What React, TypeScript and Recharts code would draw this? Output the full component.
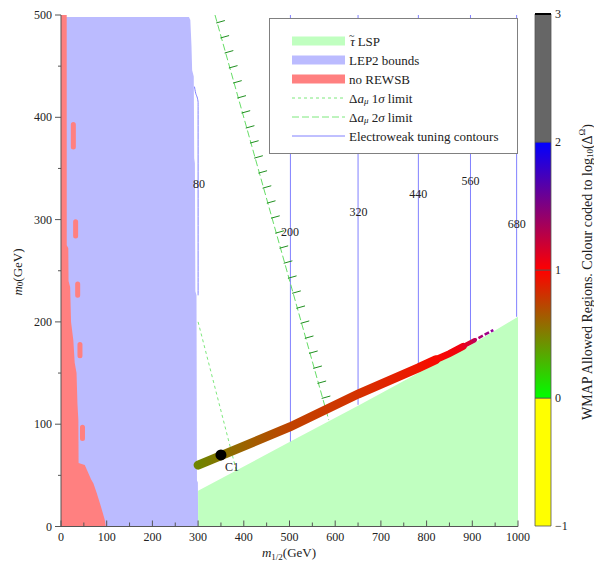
import React from 'react';
import {
  ComposedChart,
  BarChart,
  Bar,
  Area,
  Line,
  Scatter,
  XAxis,
  YAxis,
  ReferenceLine,
  Legend,
} from 'recharts';

const FONT = '"Liberation Serif", "DejaVu Serif", serif';
const INK = '#222';

// plot frame in page pixels (chart is pinned to the page corner)
const PLOT_LEFT = 61;
const PLOT_TOP = 15;
const PLOT_RIGHT = 518;
const PLOT_BOTTOM = 526.5;

// axis ticks
const xTicks = [0, 50, 100, 150, 200, 250, 300, 350, 400, 450, 500, 550, 600, 650, 700, 750, 800, 850, 900, 950, 1000];
const yTicks = [0, 50, 100, 150, 200, 250, 300, 350, 400, 450, 500];

// stau LSP region, upper edge (m1/2, m0)
const stauM12 = [300, 502, 650, 782, 895, 1000];
const stauM0 = [35, 83, 118, 150, 177, 205];

// LEP2 bounds, upper / right edge
const lepM12 = [0, 280, 283, 285.5, 287, 290.5, 291.5, 293, 294, 296.5, 297.5, 299.5, 300];
const lepM0 = [498, 498, 495, 470, 446, 440, 360, 355, 230, 226, 45, 43, 0];

// no REWSB region, right edge
const rewsbM12 = [0, 12.5, 12.6, 16, 16.5, 20, 22, 27, 30, 34, 36, 38, 38.5, 52, 60, 66, 71, 78, 85, 91, 96, 98];
const rewsbM0 = [500, 500, 275, 272, 240, 234, 200, 182, 160, 150, 120, 104, 62, 60, 52, 46, 42, 33, 23, 14, 6, 0];

// isolated no REWSB points
const blobM12 = [27, 32, 36.5, 41.5, 47];
const blobLo = [371, 284, 226, 167, 86];
const blobHi = [393, 298, 237, 178, 97];

// WMAP allowed band (centre line), thinning towards large m1/2
const wmapM12 = [300, 502, 650, 782, 820];
const wmapM0 = [60, 97.5, 129.5, 155, 163];
const wmapMidM12 = [815, 850, 880];
const wmapMidM0 = [162, 169, 176];
const wmapThinM12 = [875, 905];
const wmapThinM0 = [175, 182];
const wmapTailM12 = [900, 925, 946];
const wmapTailM0 = [181, 187, 192];

// electroweak tuning contours
const tuneM12 = [502, 650, 782, 896, 997];
const tuneLow = [83, 119, 151, 179, 205];
const tuneHigh = [500, 500, 500, 500, 500];
const tune80M12 = [292, 294, 300, 300];
const tune80M0 = [430, 425, 415, 226];
const tuneLabels = ['80', '200', '320', '440', '560', '680'];
const tuneLabelM12 = [302, 501, 651, 782, 896, 997];
const tuneLabelM0 = [335, 288, 307.5, 325, 338, 296];

// Delta a_mu limits
const g2OneM12 = [300, 384];
const g2OneM0 = [200, 54];
const g2TwoM12 = [337, 586];
const g2TwoM0 = [500, 104];

// benchmark point
const benchM12 = [350];
const benchM0 = [70];
const benchNames = ['C1'];

// colour bar
const cbLevels = [-1, 0, 1, 2, 3];
const cbFills = ['#ffff00', 'url(#cbGreenRed)', 'url(#cbRedBlue)', '#666666'];

const toPts = (xs: number[], ys: number[]) => xs.map((x, i) => ({ x, y: ys[i] }));
const toSegs = (xs: number[], lo: number[], hi: number[]) =>
  xs.flatMap((x, i) => [{ x, y: lo[i] }, { x, y: hi[i] }, { x, y: null }]);

const stauData = toPts(stauM12, stauM0);
const lepData = toPts(lepM12, lepM0);
const rewsbData = toPts(rewsbM12, rewsbM0);
const blobData = toSegs(blobM12, blobLo, blobHi);
const tuneData = toSegs(tuneM12, tuneLow, tuneHigh);
const tune80Data = toPts(tune80M12, tune80M0);
const tuneLabelData = tuneLabelM12.map((x, i) => ({ x, y: tuneLabelM0[i], label: tuneLabels[i] }));
const wmapData = toPts(wmapM12, wmapM0);
const wmapMidData = toPts(wmapMidM12, wmapMidM0);
const wmapThinData = toPts(wmapThinM12, wmapThinM0);
const wmapTailData = toPts(wmapTailM12, wmapTailM0);
const g2OneData = toPts(g2OneM12, g2OneM0);
const benchData = benchM12.map((x, i) => ({ x, y: benchM0[i], label: benchNames[i] }));

// one stacked bar: below zero stacks down, above zero stacks up
const cbRow: Record<string, number | string> = { name: 'cb' };
cbLevels.slice(0, -1).forEach((lo, i) => {
  const hi = cbLevels[i + 1];
  cbRow['s' + i] = hi <= 0 ? lo - hi : hi - lo;
});
const cbData = [cbRow];

const XTick = (props: any) => {
  const { x, payload } = props;
  const v = payload.value;
  const major = v % 100 === 0;
  return (
    <g>
      <line x1={x} x2={x} y1={PLOT_BOTTOM} y2={PLOT_BOTTOM - (major ? 6 : 4)} stroke="#555" />
      {major && (
        <text x={x} y={PLOT_BOTTOM + 14} textAnchor="middle" fontFamily={FONT} fontSize={12} fill={INK}>
          {v}
        </text>
      )}
    </g>
  );
};

const YTick = (props: any) => {
  const { y, payload } = props;
  const v = payload.value;
  const major = v % 100 === 0;
  return (
    <g>
      <line x1={PLOT_LEFT - (major ? 6 : 3)} x2={PLOT_LEFT} y1={y} y2={y} stroke="#555" />
      {major && (
        <text x={PLOT_LEFT - 9} y={y + 4} textAnchor="end" fontFamily={FONT} fontSize={12} fill={INK}>
          {v}
        </text>
      )}
    </g>
  );
};

const XTitle = () => (
  <text x={289} y={557} textAnchor="middle" fontFamily={FONT} fontSize={13} fill={INK}>
    <tspan fontStyle="italic">m</tspan>
    <tspan fontSize={9} dy={3}>1/2</tspan>
    <tspan dy={-3}>(GeV)</tspan>
  </text>
);

const YTitle = () => (
  <text
    x={17}
    y={272}
    transform="rotate(-90 17 272)"
    textAnchor="middle"
    dominantBaseline="central"
    fontFamily={FONT}
    fontSize={13}
    fill={INK}
  >
    <tspan fontStyle="italic">m</tspan>
    <tspan fontSize={9} dy={3}>0</tspan>
    <tspan dy={-3}>(GeV)</tspan>
  </text>
);

const CbTitle = () => (
  <text
    x={67}
    y={272}
    transform="rotate(-90 67 272)"
    textAnchor="middle"
    dominantBaseline="central"
    fontFamily={FONT}
    fontSize={14}
    fill={INK}
  >
    WMAP Allowed Regions. Colour coded to log
    <tspan fontSize={9} dy={3}>10</tspan>
    <tspan dy={-3}>(Δ</tspan>
    <tspan fontSize={9} dy={-5}>Ω</tspan>
    <tspan dy={5}>)</tspan>
  </text>
);

// dashed 2 sigma line with hatch marks on the allowed side
const HatchedLine = (props: any) => {
  const { x1, y1, x2, y2 } = props;
  const dx = x2 - x1;
  const dy = y2 - y1;
  const len = Math.hypot(dx, dy);
  const ux = dx / len;
  const uy = dy / len;
  let nx = -uy;
  let ny = ux;
  if (nx < 0) {
    nx = -nx;
    ny = -ny;
  }
  const hatches = [];
  for (let s = 8, k = 0; s < len - 8; s += 15.6, k++) {
    const px = x1 + ux * s;
    const py = y1 + uy * s;
    hatches.push(
      <line key={k} x1={px - nx} y1={py - ny} x2={px + nx * 8} y2={py + ny * 8} stroke="#1f8f1f" strokeWidth={1} />
    );
  }
  return (
    <g>
      <line x1={x1} y1={y1} x2={x2} y2={y2} stroke="#66dd66" strokeWidth={1} strokeDasharray="7 3" />
      {hatches}
    </g>
  );
};

const TuneLabel = (props: any) => {
  const { cx, cy, payload } = props;
  return (
    <text x={cx} y={cy} textAnchor="middle" dominantBaseline="central" fontFamily={FONT} fontSize={12} fill={INK}>
      {payload.label}
    </text>
  );
};

const BenchPoint = (props: any) => {
  const { cx, cy, payload } = props;
  return (
    <g>
      <circle cx={cx} cy={cy} r={5.5} fill="#000" />
      <text x={cx + 11} y={cy + 12} textAnchor="middle" dominantBaseline="central" fontFamily={FONT} fontSize={12} fill={INK}>
        {payload.label}
      </text>
    </g>
  );
};

const DeltaA = ({ x, y, sigma }: { x: number; y: number; sigma: string }) => (
  <text x={x} y={y} dominantBaseline="central" fontFamily={FONT} fontSize={13} fill={INK}>
    Δ<tspan fontStyle="italic">a</tspan>
    <tspan fontStyle="italic" fontSize={9} dy={3}>μ</tspan>
    <tspan dy={-3}> {sigma}</tspan>
    <tspan fontStyle="italic">σ</tspan> limit
  </text>
);

const legendRows = ['stau', 'lep', 'rewsb', 'one', 'two', 'tune'];

const LegendBox = () => {
  const sx1 = 22;
  const sx2 = 75;
  const tx = 79;
  return (
    <div style={{ width: 247, height: 134, border: '1px solid #808080', background: '#fff' }}>
      <svg width={247} height={134} style={{ display: 'block' }}>
        {legendRows.map((row, i) => {
          const y = 22 + i * 19;
          if (row === 'stau') {
            return (
              <g key={row}>
                <rect x={sx1} y={y - 4.5} width={sx2 - sx1} height={9} fill="#c0ffc0" />
                <text x={tx} y={y} dominantBaseline="central" fontFamily={FONT} fontSize={13} fill={INK}>
                  <tspan fontStyle="italic">τ</tspan>
                  <tspan dx={-6} dy={-6} fontSize={10}>~</tspan>
                  <tspan dx={0} dy={6}> LSP</tspan>
                </text>
              </g>
            );
          }
          if (row === 'lep' || row === 'rewsb') {
            return (
              <g key={row}>
                <rect x={sx1} y={y - 4.5} width={sx2 - sx1} height={9} fill={row === 'lep' ? '#bbbbff' : '#ff8080'} />
                <text x={tx} y={y} dominantBaseline="central" fontFamily={FONT} fontSize={13} fill={INK}>
                  {row === 'lep' ? 'LEP2 bounds' : 'no REWSB'}
                </text>
              </g>
            );
          }
          if (row === 'tune') {
            return (
              <g key={row}>
                <line x1={sx1} x2={sx2} y1={y} y2={y} stroke="#8080ff" />
                <text x={tx} y={y} dominantBaseline="central" fontFamily={FONT} fontSize={13} fill={INK}>
                  Electroweak tuning contours
                </text>
              </g>
            );
          }
          return (
            <g key={row}>
              <line
                x1={sx1}
                x2={sx2}
                y1={y}
                y2={y}
                stroke="#7de87d"
                strokeDasharray={row === 'one' ? '3 3' : '7 3'}
              />
              <DeltaA x={tx} y={y} sigma={row === 'one' ? '1' : '2'} />
            </g>
          );
        })}
      </svg>
    </div>
  );
};

export default function App() {
  return (
    <div style={{ position: 'absolute', left: 0, top: 0, width: 594, height: 562, background: '#fff' }}>
      <ComposedChart
        width={594}
        height={562}
        margin={{ top: PLOT_TOP, right: 594 - PLOT_RIGHT, bottom: 562 - PLOT_BOTTOM - 30, left: PLOT_LEFT - 40 }}
      >
        <defs>
          <linearGradient id="wmapMain" x1="0" y1="0" x2="1" y2="0">
            <stop offset="0" stopColor="#6f8400" />
            <stop offset="0.2" stopColor="#9c6200" />
            <stop offset="0.39" stopColor="#c04200" />
            <stop offset="0.67" stopColor="#d43200" />
            <stop offset="0.92" stopColor="#ee1500" />
            <stop offset="1" stopColor="#f80a00" />
          </linearGradient>
          <linearGradient id="wmapMid" x1="0" y1="0" x2="1" y2="0">
            <stop offset="0" stopColor="#f80a00" />
            <stop offset="1" stopColor="#f00010" />
          </linearGradient>
          <linearGradient id="wmapThin" x1="0" y1="0" x2="1" y2="0">
            <stop offset="0" stopColor="#ee0018" />
            <stop offset="1" stopColor="#c80048" />
          </linearGradient>
          <linearGradient id="wmapTail" x1="0" y1="0" x2="1" y2="0">
            <stop offset="0" stopColor="#c00050" />
            <stop offset="1" stopColor="#9000a0" />
          </linearGradient>
        </defs>

        <Area data={stauData} dataKey="y" type="linear" fill="#c0ffc0" fillOpacity={1} stroke="none" isAnimationActive={false} />
        <Area data={lepData} dataKey="y" type="linear" fill="#bbbbff" fillOpacity={1} stroke="none" isAnimationActive={false} />
        <Area data={rewsbData} dataKey="y" type="linear" fill="#ff8080" fillOpacity={1} stroke="none" isAnimationActive={false} />
        <Line data={blobData} dataKey="y" stroke="#ff8080" strokeWidth={5} strokeLinecap="round" dot={false} activeDot={false} isAnimationActive={false} />

        <Line data={tuneData} dataKey="y" stroke="#8080ff" strokeWidth={1} dot={false} activeDot={false} isAnimationActive={false} />
        <Line data={tune80Data} dataKey="y" type="monotone" stroke="#8080ff" strokeWidth={1} dot={false} activeDot={false} isAnimationActive={false} />
        <Scatter data={tuneLabelData} dataKey="y" shape={<TuneLabel />} isAnimationActive={false} />

        <Line data={g2OneData} dataKey="y" stroke="#7de87d" strokeWidth={1} strokeDasharray="3 3" dot={false} activeDot={false} isAnimationActive={false} />
        <ReferenceLine
          segment={[
            { x: g2TwoM12[0], y: g2TwoM0[0] },
            { x: g2TwoM12[1], y: g2TwoM0[1] },
          ]}
          shape={HatchedLine}
        />

        <Line data={wmapData} dataKey="y" stroke="url(#wmapMain)" strokeWidth={9} strokeLinecap="round" dot={false} activeDot={false} isAnimationActive={false} />
        <Line data={wmapMidData} dataKey="y" stroke="url(#wmapMid)" strokeWidth={7} strokeLinecap="round" dot={false} activeDot={false} isAnimationActive={false} />
        <Line data={wmapThinData} dataKey="y" stroke="url(#wmapThin)" strokeWidth={4.5} strokeLinecap="round" dot={false} activeDot={false} isAnimationActive={false} />
        <Line data={wmapTailData} dataKey="y" stroke="url(#wmapTail)" strokeWidth={2.5} strokeDasharray="5 2" dot={false} activeDot={false} isAnimationActive={false} />

        <Scatter data={benchData} dataKey="y" shape={<BenchPoint />} isAnimationActive={false} />

        <XAxis
          dataKey="x"
          type="number"
          domain={[0, 1000]}
          ticks={xTicks}
          interval={0}
          height={30}
          tickLine={false}
          axisLine={{ stroke: '#555' }}
          tick={<XTick />}
          label={{ content: XTitle }}
        />
        <YAxis
          type="number"
          domain={[0, 500]}
          ticks={yTicks}
          interval={0}
          width={40}
          tickLine={false}
          axisLine={{ stroke: '#555' }}
          tick={<YTick />}
          label={{ content: YTitle }}
        />
        <Legend
          layout="vertical"
          align="center"
          verticalAlign="middle"
          content={() => <LegendBox />}
          wrapperStyle={{ left: 269, top: 18, width: 249, height: 136 }}
        />
      </ComposedChart>

      <div style={{ position: 'absolute', left: 520, top: 0 }}>
        <BarChart
          width={74}
          height={562}
          data={cbData}
          stackOffset="sign"
          barCategoryGap={0}
          margin={{ top: 14, right: 13, bottom: 36, left: 15 }}
        >
          <defs>
            <linearGradient id="cbGreenRed" x1="0" y1="1" x2="0" y2="0">
              <stop offset="0" stopColor="#00ff00" />
              <stop offset="1" stopColor="#ff0000" />
            </linearGradient>
            <linearGradient id="cbRedBlue" x1="0" y1="1" x2="0" y2="0">
              <stop offset="0" stopColor="#ff0000" />
              <stop offset="1" stopColor="#0000ff" />
            </linearGradient>
          </defs>
          <XAxis dataKey="name" type="category" hide />
          <YAxis
            orientation="right"
            type="number"
            domain={[-1, 3]}
            ticks={cbLevels}
            interval={0}
            width={30}
            axisLine={false}
            tickLine={false}
            tickSize={0}
            tickMargin={4}
            tick={{ fontFamily: FONT, fontSize: 12, fill: INK }}
            tickFormatter={(v: number) => (v < 0 ? '\u2212' + Math.abs(v) : String(v))}
            label={{ content: CbTitle }}
          />
          {cbFills.map((fill, i) => (
            <Bar
              key={i}
              dataKey={'s' + i}
              stackId="cb"
              fill={fill}
              stroke="#555"
              strokeWidth={0.8}
              isAnimationActive={false}
            />
          ))}
          <ReferenceLine y={cbLevels[cbLevels.length - 1]} stroke="#000" strokeWidth={2} />
        </BarChart>
      </div>
    </div>
  );
}
